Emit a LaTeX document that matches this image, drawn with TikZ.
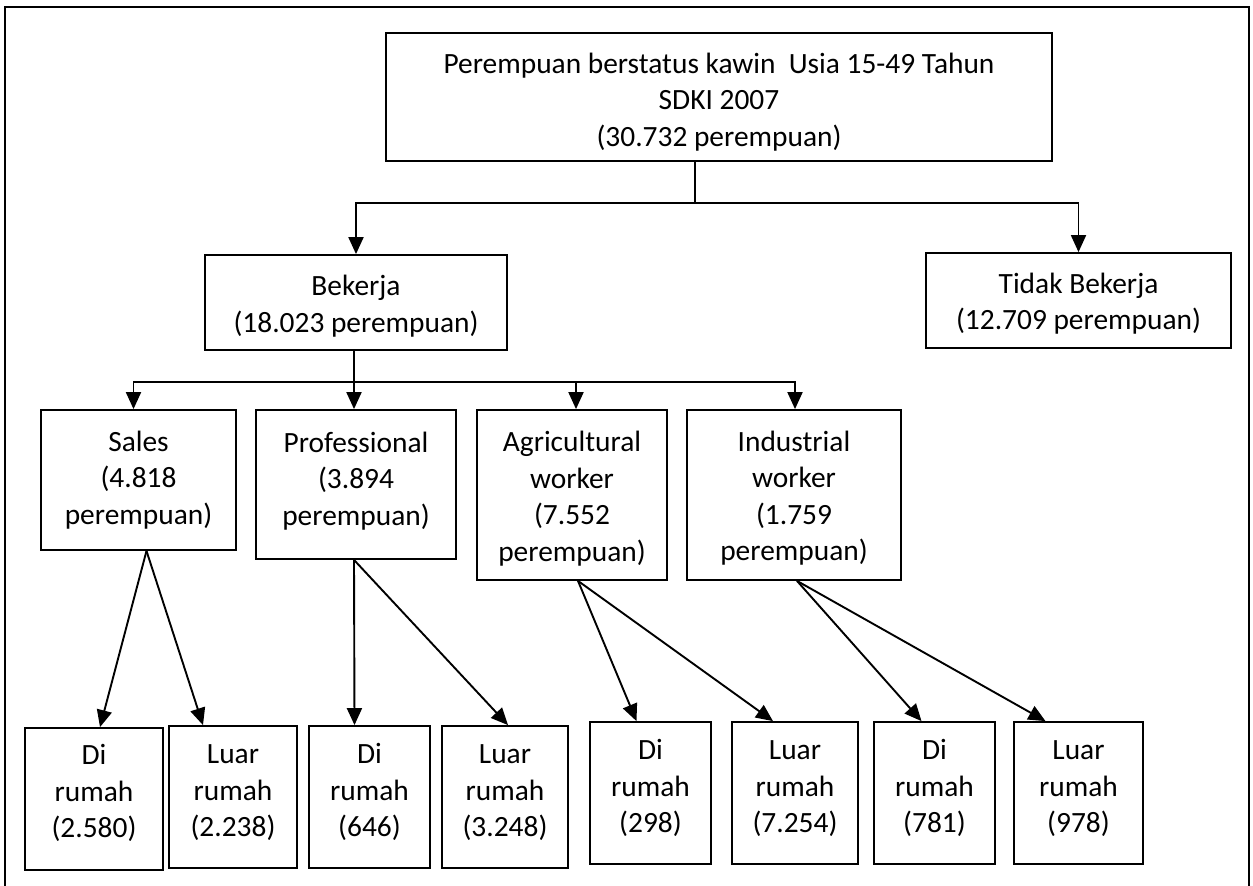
\documentclass[tikz,border=0pt]{standalone}
\usepackage{fontspec}
\setmainfont{Carlito}
\usetikzlibrary{arrows.meta,positioning}

% centred lines of box text, padded above (#1) or below (#2) to nudge it down or up
\newcommand\boxlines[3]{\raisebox{0pt}[\dimexpr\height+#1\relax][\dimexpr\depth+#2\relax]{%
  \begin{tabular}{@{}c@{}}#3\end{tabular}}}

\begin{document}
\begin{tikzpicture}[x=1pt,y=-1pt,
  box/.style={draw=black, line width=1.8pt, rectangle, inner sep=0pt,
    font=\fontsize{29.4}{36.5}\selectfont},
  conn/.style={draw=black, line width=1.9pt},
  arr/.style={conn, -{Triangle[length=17pt,width=15pt]}}]

\useasboundingbox (0,0) rectangle (1253,886);
\fill[white] (0,0) rectangle (1253,886);

% page frame
\draw[line width=1.8pt] (5,886) -- (5,7) -- (1249,7) -- (1249,886);

% top box
\node[box, minimum width=666pt, minimum height=128pt] (top) at (719,97)
  {\boxlines{11pt}{0pt}{Perempuan berstatus kawin\ \ Usia 15-49 Tahun\\SDKI 2007\\(30.732 perempuan)}};

% second level
\node[box, minimum width=302pt, minimum height=95pt] (kerja) at (356,302.5)
  {\boxlines{8pt}{0pt}{Bekerja\\(18.023 perempuan)}};
\node[box, minimum width=305pt, minimum height=95pt] (tidak) at (1078.5,300.5)
  {\boxlines{7pt}{0pt}{Tidak Bekerja\\(12.709 perempuan)}};

% occupation boxes
\node[box, minimum width=195pt, minimum height=140pt] (sales) at (138.5,480)
  {\boxlines{1pt}{0pt}{Sales\\(4.818\\perempuan)}};
\node[box, minimum width=200pt, minimum height=149pt] (prof) at (356,484.5)
  {\boxlines{0pt}{6pt}{Professional\\(3.894\\perempuan)}};
\node[box, minimum width=190pt, minimum height=170pt] (agri) at (572,495)
  {\boxlines{8pt}{0pt}{Agricultural\\worker\\(7.552\\perempuan)}};
\node[box, minimum width=214pt, minimum height=170pt] (ind) at (794,495)
  {\boxlines{7pt}{0pt}{Industrial\\worker\\(1.759\\perempuan)}};

% place of work boxes
\node[box, minimum width=138pt, minimum height=142pt] (s1) at (94,799)
  {\boxlines{0pt}{10pt}{Di\\rumah\\(2.580)}};
\node[box, minimum width=128pt, minimum height=142pt] (s2) at (233,797)
  {\boxlines{0pt}{8pt}{Luar\\rumah\\(2.238)}};
\node[box, minimum width=121pt, minimum height=142pt] (p1) at (369.5,797)
  {\boxlines{0pt}{8pt}{Di\\rumah\\(646)}};
\node[box, minimum width=126pt, minimum height=142pt] (p2) at (505,797)
  {\boxlines{0pt}{8pt}{Luar\\rumah\\(3.248)}};
\node[box, minimum width=121pt, minimum height=142pt] (a1) at (650.5,793)
  {\boxlines{0pt}{8pt}{Di\\rumah\\(298)}};
\node[box, minimum width=126pt, minimum height=142pt] (a2) at (795,793)
  {\boxlines{0pt}{8pt}{Luar\\rumah\\(7.254)}};
\node[box, minimum width=121pt, minimum height=142pt] (i1) at (934.5,793)
  {\boxlines{0pt}{8pt}{Di\\rumah\\(781)}};
\node[box, minimum width=129pt, minimum height=142pt] (i2) at (1078.5,793)
  {\boxlines{0pt}{8pt}{Luar\\rumah\\(978)}};

% top split
\coordinate (tsplit) at (695,203);
\draw[conn] ([xshift=-24pt]top.south) -- (tsplit);
\draw[arr] (tsplit) -| (kerja.north);
\draw[arr] (tsplit) -| (tidak.north);

% occupation split
\coordinate (ksplit) at (354,382);
\draw[conn] ([xshift=-2pt]kerja.south) -- (ksplit);
\draw[arr] (ksplit) -| ([xshift=-5pt]sales.north);
\draw[arr] (ksplit) -- ([xshift=-2pt]prof.north);
\draw[arr] (ksplit) -| ([xshift=4pt]agri.north);
\draw[arr] (ksplit) -| ([xshift=1pt]ind.north);

% place of work
\draw[arr] ([xshift=8pt]sales.south) -- ([xshift=6pt]s1.north);
\draw[arr] ([xshift=8pt]sales.south) -- ([xshift=-30pt]s2.north);
\draw[arr] ([xshift=-2pt]prof.south) -- ([xshift=-15pt]p1.north);
\draw[arr] ([xshift=-2pt]prof.south) -- ([xshift=3pt]p2.north);
\draw[arr] ([xshift=6pt]agri.south) -- ([xshift=-14pt]a1.north);
\draw[arr] ([xshift=6pt]agri.south) -- ([xshift=-22pt]a2.north);
\draw[arr] ([xshift=3pt]ind.south) -- ([xshift=-13pt]i1.north);
\draw[arr] ([xshift=3pt]ind.south) -- ([xshift=-33pt]i2.north);

\end{tikzpicture}
\end{document}
